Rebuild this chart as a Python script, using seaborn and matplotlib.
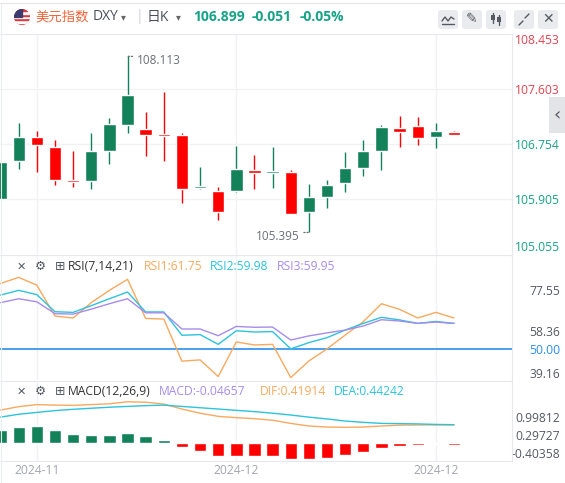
import numpy as np
import pandas as pd
import matplotlib
matplotlib.use("Agg")
import matplotlib.pyplot as plt
from matplotlib.lines import Line2D
from matplotlib.patches import Rectangle, FancyBboxPatch, Circle
import seaborn as sns

sns.set_theme(style="white")
plt.rcParams["font.family"] = ["Open Sans", "Noto Sans CJK SC", "DejaVu Sans"]

# daily DXY candles, oldest first
opens = [105.915, 106.502, 106.867, 106.713, 106.203, 106.193, 106.656, 107.057, 106.991, 106.913,
         106.898, 106.080, 106.033, 106.033, 106.358, 106.316, 106.327, 105.714, 105.946, 106.162,
         106.394, 106.656, 107.006, 107.032, 106.872, 106.944]
highs = [106.481, 107.083, 106.960, 106.821, 106.651, 106.929, 107.166, 108.113, 107.253, 107.562,
         106.924, 106.409, 106.095, 106.728, 106.589, 106.713, 106.358, 106.141, 106.203, 106.635,
         106.821, 107.047, 107.191, 107.176, 107.083, 106.960]
lows = [105.915, 106.378, 106.327, 106.126, 106.100, 106.069, 106.455, 106.934, 106.579, 106.502,
        105.853, 106.069, 105.585, 106.018, 106.069, 106.085, 105.683, 105.395, 105.776, 106.018,
        106.270, 106.363, 106.713, 106.744, 106.702, 106.899]
closes = [106.481, 106.867, 106.749, 106.208, 106.172, 106.651, 107.068, 107.516, 106.903, 106.888,
          106.069, 106.095, 105.714, 106.373, 106.316, 106.327, 105.683, 105.941, 106.126, 106.388,
          106.651, 107.021, 106.949, 106.857, 106.960, 106.899]

rsi1 = [80.5, 83.3, 79.7, 65.4, 64.5, 71.6, 77.3, 82.4, 64.3, 64.0, 44.5, 45.1, 37.4, 53.4, 52.0,
        52.3, 36.9, 44.6, 50.2, 56.6, 62.8, 71.1, 68.5, 64.5, 67.1, 64.5]
rsi2 = [75.1, 77.3, 75.3, 67.4, 67.1, 70.2, 73.4, 76.5, 67.3, 67.3, 56.5, 56.8, 52.3, 58.6, 58.0,
        58.2, 50.2, 53.1, 55.4, 58.9, 62.0, 64.8, 63.6, 62.0, 62.9, 62.0]
rsi3 = [71.6, 73.4, 72.0, 66.5, 66.3, 68.6, 71.1, 73.4, 66.9, 66.9, 59.4, 59.4, 56.3, 60.6, 60.2,
        60.3, 54.3, 56.2, 57.6, 58.9, 60.8, 63.7, 63.1, 62.0, 62.6, 62.0]

dif = [1.25, 1.38, 1.46, 1.44, 1.43, 1.46, 1.49, 1.57, 1.55, 1.48, 1.29, 1.13, 1.01, 0.96, 0.92,
       0.86, 0.74, 0.64, 0.60, 0.59, 0.60, 0.64, 0.67, 0.68, 0.68, 0.68]
dea = [0.98, 1.09, 1.16, 1.23, 1.28, 1.32, 1.36, 1.39, 1.42, 1.44, 1.39, 1.34, 1.29, 1.24, 1.19,
       1.13, 1.06, 0.98, 0.91, 0.83, 0.78, 0.74, 0.73, 0.72, 0.70, 0.69]
macd_hist = [0.485, 0.60, 0.64, 0.485, 0.33, 0.29, 0.29, 0.37, 0.255, 0.10, -0.166, -0.31, -0.50,
             -0.50, -0.50, -0.50, -0.61, -0.61, -0.59, -0.46, -0.345, -0.19, -0.115, -0.077,
             -0.06, -0.07]

price_ticks = [108.453, 107.603, 106.754, 105.905, 105.055]
rsi_ticks = [77.55, 58.36, 50.00, 39.16]
macd_ticks = [0.99812, 0.29727, -0.40358]
date_pos = [2, 13, 24]
date_labels = ["2024-11", "2024-12", "2024-12"]

GREEN = "#13825a"
RED = "#ff0000"
UP_TXT = "#17a386"
DN_TXT = "#e2434f"
C_ORANGE = "#f8a95e"
C_CYAN = "#2cc3dc"
C_PURPLE = "#a68cec"
GRID = "#f1f2f4"
SEP = "#e6e8eb"
TXT = "#555a61"

W, H = 565, 483
fig = plt.figure(figsize=(W / 100, H / 100), dpi=100)
fig.patch.set_facecolor("white")


def px(x, y):
    return x / W, 1 - y / H


def panel(top, bottom, **kw):
    return fig.add_axes([0, 1 - bottom / H, 512.4 / W, (bottom - top) / H], **kw)


ax_p = panel(34, 254.5)
ax_r = panel(255, 380, sharex=ax_p)
ax_m = panel(381, 461, sharex=ax_p)

n = len(opens)
x = np.arange(n)

# candles
o, h, l, c = map(np.array, (opens, highs, lows, closes))
cols = np.where(c >= o, GREEN, RED)
ax_p.vlines(x, l, h, colors=cols, lw=1.0, zorder=2)
ax_p.bar(x, np.maximum(np.abs(c - o), 0.03), bottom=np.minimum(o, c), width=0.68,
         color=cols, zorder=3)
for t in price_ticks[1:4]:
    ax_p.axhline(t, color=GRID, lw=1, zorder=0)

i_hi, i_lo = int(np.argmax(h)), int(np.argmin(l))
ax_p.annotate(f"{h[i_hi]:.3f}", (i_hi, h[i_hi]), xytext=(7, -3), textcoords="offset points",
              ha="left", va="center", fontsize=8.5, color="#6b6f76",
              arrowprops=dict(arrowstyle="-", ls=(0, (1, 1.5)), color="#6b6f76", lw=0.9,
                              shrinkA=1, shrinkB=0, relpos=(0, 0.8)))
ax_p.annotate(f"{l[i_lo]:.3f}", (i_lo, l[i_lo]), xytext=(-7, -3), textcoords="offset points",
              ha="right", va="center", fontsize=8.5, color="#6b6f76",
              arrowprops=dict(arrowstyle="-", ls=(0, (1, 1.5)), color="#6b6f76", lw=0.9,
                              shrinkA=1, shrinkB=0, relpos=(1, 0.8)))

# RSI
rsi_df = pd.DataFrame({"idx": np.tile(x, 3), "value": rsi1 + rsi2 + rsi3,
                       "line": ["RSI1"] * n + ["RSI2"] * n + ["RSI3"] * n})
sns.lineplot(data=rsi_df, x="idx", y="value", hue="line",
             palette=[C_ORANGE, C_CYAN, C_PURPLE], lw=1.0, legend=False, ax=ax_r)
ax_r.axhline(50, color="#2a8ef0", lw=1.2, zorder=1)

# MACD
hist = np.array(macd_hist)
ax_m.bar(x, hist, width=0.68, color=np.where(hist >= 0, GREEN, RED), zorder=2)
macd_df = pd.DataFrame({"idx": np.tile(x, 2), "value": dif + dea,
                        "line": ["DIF"] * n + ["DEA"] * n})
sns.lineplot(data=macd_df, x="idx", y="value", hue="line", palette=[C_ORANGE, C_CYAN],
             lw=1.0, legend=False, ax=ax_m)

for ax in (ax_p, ax_r, ax_m):
    ax.set_facecolor("white")
    ax.grid(False)
    for s in ax.spines.values():
        s.set_visible(False)
    for side in ("top", "right"):
        ax.spines[side].set_visible(True)
        ax.spines[side].set_color(SEP)
        ax.spines[side].set_linewidth(0.8)
    ax.yaxis.tick_right()
    ax.tick_params(axis="y", length=0, pad=34.3, labelsize=8.7)
    ax.tick_params(axis="x", length=0)
    ax.set_xlabel("")
    ax.set_ylabel("")
    for p in date_pos:
        ax.axvline(p, color=GRID, lw=1, zorder=0)

ax_m.spines["bottom"].set_visible(True)
ax_m.spines["bottom"].set_color(SEP)
ax_m.spines["bottom"].set_linewidth(0.8)

ax_p.set_ylim(105.053, 108.457)
ax_r.set_ylim(35.79, 93.66)
ax_m.set_ylim(-0.701, 2.364)

ax_p.set_yticks(price_ticks, labels=[f"{t:.3f}" for t in price_ticks])
ax_r.set_yticks(rsi_ticks, labels=[f"{t:.2f}" for t in rsi_ticks])
ax_m.set_yticks(macd_ticks, labels=[f"{t:.5f}" for t in macd_ticks])

for lbl, t in zip(ax_p.get_yticklabels(), price_ticks):
    lbl.set_color(DN_TXT if t > closes[-1] else UP_TXT)
    lbl.set_horizontalalignment("right")
pl = ax_p.get_yticklabels()
pl[0].set_verticalalignment("top")
pl[-1].set_verticalalignment("bottom")
for lbl, t in zip(ax_r.get_yticklabels(), rsi_ticks):
    lbl.set_color("#2a8ef0" if t == 50 else TXT)
    lbl.set_horizontalalignment("right")
for lbl in ax_m.get_yticklabels():
    lbl.set_color(TXT)
    lbl.set_horizontalalignment("right")

ax_m.set_xticks(date_pos, labels=date_labels)
ax_m.tick_params(axis="x", pad=2, labelsize=8.7, labelcolor="#a3a7ad")
plt.setp(ax_p.get_xticklabels(), visible=False)
plt.setp(ax_r.get_xticklabels(), visible=False)
ax_p.set_xlim(-0.03, 28.22)

# card border
fig.add_artist(Line2D([0, 1], [1 - 2.5 / H] * 2, color="#e3e5e8", lw=0.8))
fig.add_artist(Line2D([0.8 / W] * 2, [0, 1 - 2.5 / H], color="#eceef0", lw=0.8))

# header
ax_f = fig.add_axes([14 / W, 1 - 25 / H, 16 / W, 16 / H])
ax_f.set_xlim(0, 1)
ax_f.set_ylim(0, 1)
ax_f.axis("off")
clip = Circle((0.5, 0.5), 0.5, transform=ax_f.transData)
for k in range(7):
    r = ax_f.add_patch(Rectangle((0, k / 7), 1, 1 / 7, color="#d9363e" if k % 2 == 0 else "white"))
    r.set_clip_path(clip)
r = ax_f.add_patch(Rectangle((0, 0.5), 0.5, 0.5, color="#3c3b6e"))
r.set_clip_path(clip)

fig.text(*px(35, 17), "美元指数", color="#f0663a", fontsize=9.6, va="center")
fig.text(*px(93, 17), "DXY", color="#4a4f57", fontsize=10, va="center")
fig.text(*px(121, 17.5), "▾", color="#666", fontsize=7, va="center", family="DejaVu Sans")
fig.text(*px(136, 17), "|", color="#cfd2d6", fontsize=10, va="center")
fig.text(*px(147, 17), "日K", color="#4a4f57", fontsize=10, va="center")
fig.text(*px(176, 17.5), "▾", color="#666", fontsize=7, va="center", family="DejaVu Sans")
fig.text(*px(193, 17), "106.899", color=UP_TXT, fontsize=10, weight="bold", va="center")
fig.text(*px(252, 17), "-0.051", color=UP_TXT, fontsize=10, weight="bold", va="center")
fig.text(*px(300, 17), "-0.05%", color=UP_TXT, fontsize=10, weight="bold", va="center")

for x0 in (438, 462, 486, 514, 538):
    fig.add_artist(FancyBboxPatch(px(x0, 29), 20 / W, 19 / H,
                                  boxstyle="round,pad=0,rounding_size=0.006",
                                  transform=fig.transFigure, fc="#e9ebef", ec="none"))
icon = dict(color="#555a61", lw=1.0)
zz = [(442, 21), (445, 17), (448, 21), (451, 17), (454, 19)]
fig.add_artist(Line2D([p[0] / W for p in zz], [1 - p[1] / H for p in zz], **icon))
fig.add_artist(Line2D([442 / W, 454 / W], [1 - 24 / H] * 2, **icon))
fig.text(*px(472, 19.5), "✎", color="#555a61", fontsize=10, ha="center", va="center",
         family="DejaVu Sans")
for cx, top in ((493, 14), (499, 16)):
    fig.add_artist(Line2D([cx / W] * 2, [1 - (top - 1) / H, 1 - (top + 9) / H], **icon))
    fig.add_artist(Rectangle(px(cx - 1.8, top + 6), 3.6 / W, 5 / H, transform=fig.transFigure,
                             fc="#555a61", ec="none"))
fig.add_artist(Line2D([519 / W, 523 / W], [1 - 25 / H, 1 - 21 / H], **icon))
fig.add_artist(Line2D([525 / W, 529 / W], [1 - 18 / H, 1 - 14 / H], **icon))
fig.text(*px(548, 19.5), "✕", color="#555a61", fontsize=10, ha="center", va="center",
         family="DejaVu Sans")

# collapse tab on the right edge, as its own little axes
ax_tab = fig.add_axes([549 / W, 1 - 133 / H, 16 / W, 36 / H], zorder=10)
ax_tab.set_facecolor("#e2e4e8")
ax_tab.set_xticks([])
ax_tab.set_yticks([])
for s in ax_tab.spines.values():
    s.set_visible(False)
ax_tab.text(0.5, 0.5, "‹", color="#555a61", fontsize=13, ha="center", va="center",
            family="DejaVu Sans", transform=ax_tab.transAxes)

# indicator headers
for yy, name, parts in (
        (266.7, "RSI(7,14,21)", [(144, "RSI1:61.75", C_ORANGE), (210, "RSI2:59.98", C_CYAN),
                                 (277, "RSI3:59.95", C_PURPLE)]),
        (391.7, "MACD(12,26,9)", [(159, "MACD:-0.04657", C_PURPLE), (260, "DIF:0.41914", C_ORANGE),
                                  (334, "DEA:0.44242", C_CYAN)])):
    fig.text(*px(21, yy), "✕", color="#555a61", fontsize=8, ha="center", va="center",
             family="DejaVu Sans")
    fig.text(*px(40, yy), "⚙", color="#555a61", fontsize=9, ha="center", va="center",
             family="DejaVu Sans")
    fig.text(*px(60, yy), "⊞", color="#555a61", fontsize=9, ha="center", va="center",
             family="DejaVu Sans")
    fig.text(*px(68, yy), name, color="#333", fontsize=8.7, va="center")
    for xx, s, col in parts:
        fig.text(*px(xx, yy), s, color=col, fontsize=8.7, va="center")

fig.savefig("out.png", dpi=100, facecolor="white")
